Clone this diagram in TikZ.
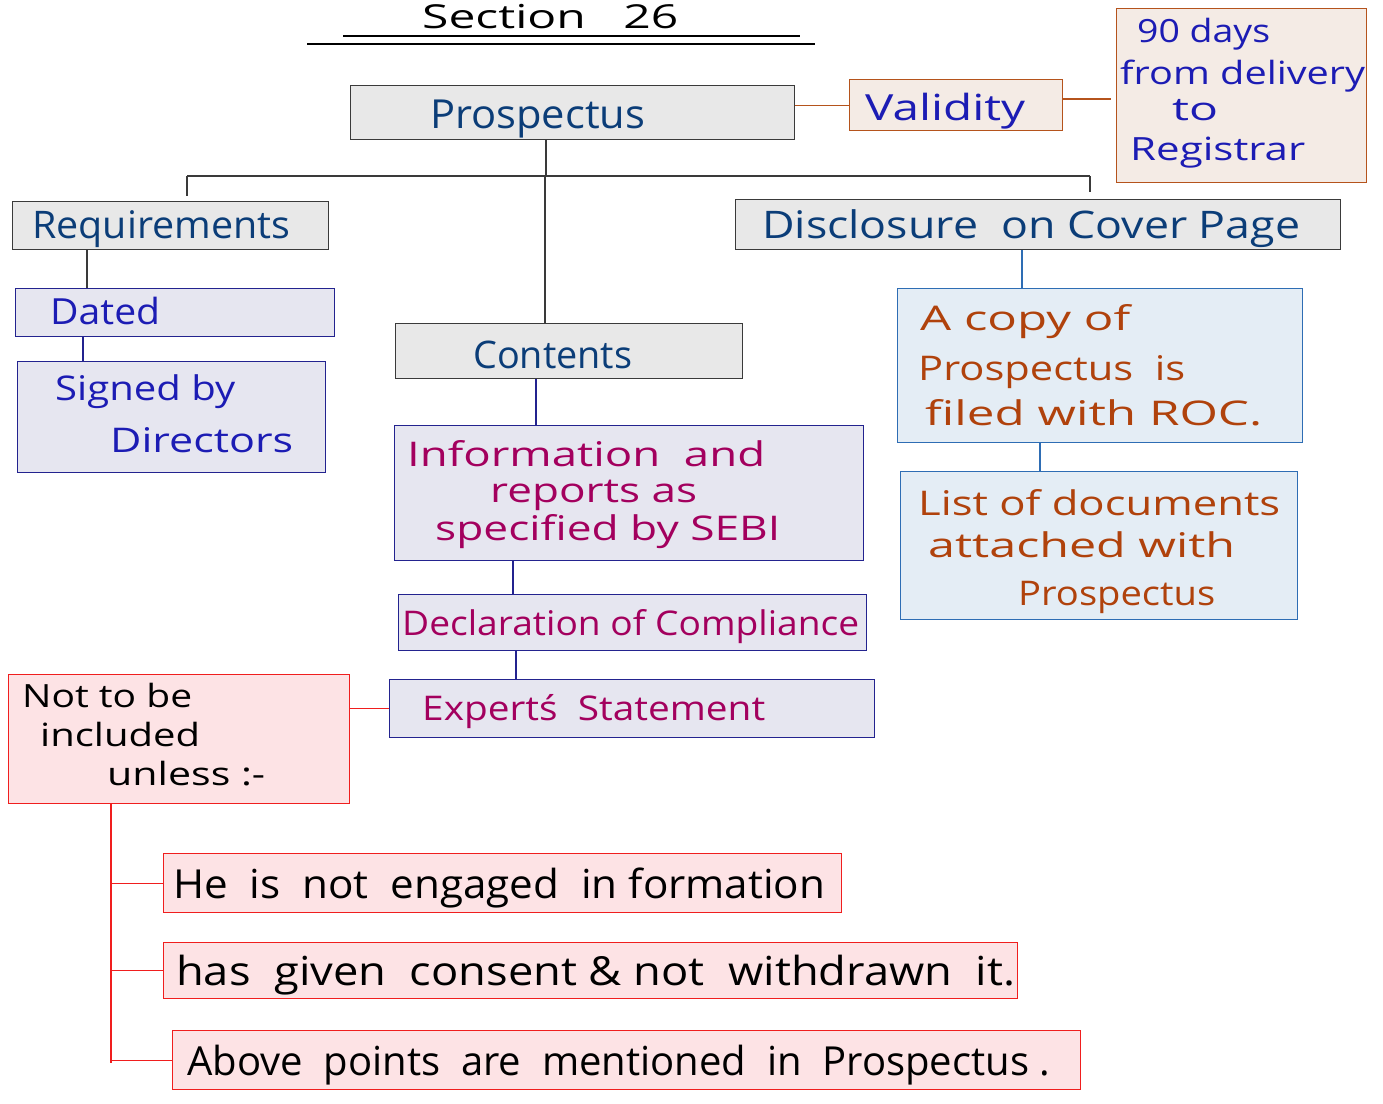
\documentclass[tikz,border=0pt]{standalone}
\usepackage{fontspec}
\setmainfont{Open Sans}
\usepackage{graphicx}
\definecolor{tdblue}{HTML}{0B3D78}
\definecolor{tblue}{HTML}{1C1CB4}
\definecolor{tmag}{HTML}{A3005E}
\definecolor{tbrown}{HTML}{B0420C}
\definecolor{gborder}{HTML}{3A3A3A}
\definecolor{gfill}{HTML}{E8E8E8}
\definecolor{bborder}{HTML}{B5531C}
\definecolor{bfill}{HTML}{F4EBE5}
\definecolor{lborder}{HTML}{23238F}
\definecolor{lfill}{HTML}{E6E6F0}
\definecolor{cborder}{HTML}{2E6DB4}
\definecolor{cfill}{HTML}{E4EDF5}
\definecolor{rborder}{HTML}{F01E1E}
\definecolor{rfill}{HTML}{FDE3E5}
\newcommand\fw[2]{\resizebox{#1pt}{\height}{#2}}
\newcommand\fs[1]{\fontsize{#1}{#1}\selectfont}
\newcommand\rbox[6]{\node[#1, minimum width=#5pt-#3pt, minimum height=#6pt-#4pt] (#2) at (#3,#4) {};}
\tikzset{
  box/.style={line width=1.4pt, inner sep=0pt, anchor=north west},
  graybox/.style={box, draw=gborder, fill=gfill},
  beigebox/.style={box, draw=bborder, fill=bfill},
  lavbox/.style={box, draw=lborder, fill=lfill},
  bluebox/.style={box, draw=cborder, fill=cfill},
  redbox/.style={box, draw=rborder, fill=rfill},
  txt/.style={anchor=base west, inner sep=0pt},
  conn/.style={line width=1.3pt},
}
\begin{document}
\begin{tikzpicture}[x=1pt,y=-1pt]
\useasboundingbox[fill=white] (0,0) rectangle (1383,1103);
% title
\node[txt, text=black] (title) at (422,28) {\fs{33}\fw{256}{Section\ \ \ 26}};
\coordinate (r1a) at (343,36); \coordinate (r1b) at (800,36);
\coordinate (r2a) at (307,44); \coordinate (r2b) at (815,44);
\draw[conn, black] (r1a) -- (r1b);
\draw[conn, black] (r2a) -- (r2b);
% boxes
\rbox{graybox}{prosp}{350}{85}{794}{139}
\rbox{beigebox}{val}{849}{79}{1062}{130}
\rbox{beigebox}{days}{1116}{8}{1366}{182}
\rbox{graybox}{req}{12}{201}{328}{249}
\rbox{lavbox}{dated}{15}{288}{334}{336}
\rbox{lavbox}{signed}{17}{361}{325}{472}
\rbox{graybox}{cont}{395}{323}{742}{378}
\rbox{lavbox}{info}{394}{425}{863}{560}
\rbox{lavbox}{decl}{398}{594}{866}{650}
\rbox{lavbox}{expert}{389}{679}{874}{737}
\rbox{graybox}{disc}{735}{199}{1340}{249}
\rbox{bluebox}{copy}{897}{288}{1302}{442}
\rbox{bluebox}{list}{900}{471}{1297}{619}
\rbox{redbox}{notto}{8}{674}{349}{803}
\rbox{redbox}{he}{163}{853}{841}{912}
\rbox{redbox}{has}{163}{942}{1017}{998}
\rbox{redbox}{above}{172}{1030}{1080}{1089}
% connectors
\coordinate (hub) at (546,176);
\coordinate (hl) at (187,176);
\coordinate (hr) at (1090,176);
\coordinate (hc) at (545,176);
\coordinate (hld) at (187,196);
\coordinate (hrd) at (1090,192);
\draw[conn, gborder] (hub |- prosp.south) -- (hub);
\draw[conn, gborder] (hl) -- (hr);
\draw[conn, gborder] (hl) -- (hld);
\draw[conn, gborder] (hr) -- (hrd);
\draw[conn, gborder] (hc) -- (hc |- cont.north);
\draw[conn, bborder] (val.west -| prosp.east) -- (val.west);
\coordinate (vd) at (1111,99);
\draw[conn, bborder] (vd -| val.east) -- (vd);
\coordinate (rq) at (87,0);
\draw[conn, gborder] (rq |- req.south) -- (rq |- dated.north);
\coordinate (dq) at (83,0);
\draw[conn, lborder] (dq |- dated.south) -- (dq |- signed.north);
\coordinate (cq) at (536,0);
\draw[conn, lborder] (cq |- cont.south) -- (cq |- info.north);
\coordinate (iq) at (513,0);
\draw[conn, lborder] (iq |- info.south) -- (iq |- decl.north);
\coordinate (eq) at (516,0);
\draw[conn, lborder] (eq |- decl.south) -- (eq |- expert.north);
\coordinate (dcq) at (1022,0);
\draw[conn, cborder] (dcq |- disc.south) -- (dcq |- copy.north);
\coordinate (lq) at (1040,0);
\draw[conn, cborder] (lq |- copy.south) -- (lq |- list.north);
\draw[conn, rborder] (expert.west -| notto.east) -- (expert.west);
\coordinate (rt) at (111,0);
\coordinate (rb) at (111,1063);
\draw[conn, rborder] (rt |- notto.south) -- (rb);
\draw[conn, rborder] (rt |- he.west) -- (he.west);
\draw[conn, rborder] (rt |- has.west) -- (has.west);
\draw[conn, rborder] (rt |- above.west) -- (above.west);
% texts
\node[txt, text=tdblue] (tprosp) at (430,128) {\fs{40}\fw{215}{Prospectus}};
\node[txt, text=tblue] (tval) at (865,120) {\fs{36}\fw{160}{Validity}};
\node[txt, text=tblue] (td1) at (1137,42) {\fs{32}\fw{133}{90 days}};
\node[txt, text=tblue] (td2) at (1120,84) {\fs{32}\fw{245}{from delivery}};
\node[txt, text=tblue] (td3) at (1172,120) {\fs{32}\fw{46}{to}};
\node[txt, text=tblue] (td4) at (1130,160) {\fs{32}\fw{175}{Registrar}};
\node[txt, text=tdblue] (treq) at (32,238) {\fs{38}\fw{258}{Requirements}};
\node[txt, text=tblue] (tdated) at (50,324) {\fs{36}\fw{110}{Dated}};
\node[txt, text=tblue] (ts1) at (55,400) {\fs{34}\fw{180}{Signed by}};
\node[txt, text=tblue] (ts2) at (110,452) {\fs{34}\fw{183}{Directors}};
\node[txt, text=tdblue] (tcont) at (473,368) {\fs{38}\fw{159}{Contents}};
\node[txt, text=tmag] (ti1) at (407,466) {\fs{34}\fw{358}{Information\ \ and}};
\node[txt, text=tmag] (ti2) at (490,502) {\fs{34}\fw{207}{reports as}};
\node[txt, text=tmag] (ti3) at (435,540) {\fs{34}\fw{345}{specified by SEBI}};
\node[txt, text=tmag] (tdecl) at (402,635) {\fs{34}\fw{457}{Declaration of Compliance}};
\node[txt, text=tmag] (texp) at (422,720) {\fs{34}\fw{343}{Expertś\ \ Statement}};
\node[txt, text=tdblue] (tdisc) at (762,238) {\fs{38}\fw{538}{Disclosure\ \ on Cover Page}};
\node[txt, text=tbrown] (tc1) at (920,330) {\fs{34}\fw{210}{A copy of}};
\node[txt, text=tbrown] (tc2) at (918,380) {\fs{34}\fw{267}{Prospectus\ \ is}};
\node[txt, text=tbrown] (tc3) at (925,425) {\fs{34}\fw{337}{filed with ROC.}};
\node[txt, text=tbrown] (tl1) at (918,515) {\fs{34}\fw{362}{List of documents}};
\node[txt, text=tbrown] (tl2) at (928,557) {\fs{34}\fw{307}{attached with}};
\node[txt, text=tbrown] (tl3) at (1018,605) {\fs{34}\fw{197}{Prospectus}};
\node[txt, text=black] (tn1) at (22,707) {\fs{32}\fw{170}{Not to be}};
\node[txt, text=black] (tn2) at (40,746) {\fs{32}\fw{160}{included}};
\node[txt, text=black] (tn3) at (107,785) {\fs{32}\fw{158}{unless :-}};
\node[txt, text=black] (the) at (173,898) {\fs{40}\fw{652}{He\ \ is\ \ not\ \ engaged\ \ in formation}};
\node[txt, text=black] (thas) at (176,985) {\fs{40}\fw{839}{has\ \ given\ \ consent \& not\ \ withdrawn\ \ it.}};
\node[txt, text=black] (tabove) at (187,1075) {\fs{40}\fw{863}{Above\ \ points\ \ are\ \ mentioned\ \ in\ \ Prospectus\ .}};
\end{tikzpicture}
\end{document}
